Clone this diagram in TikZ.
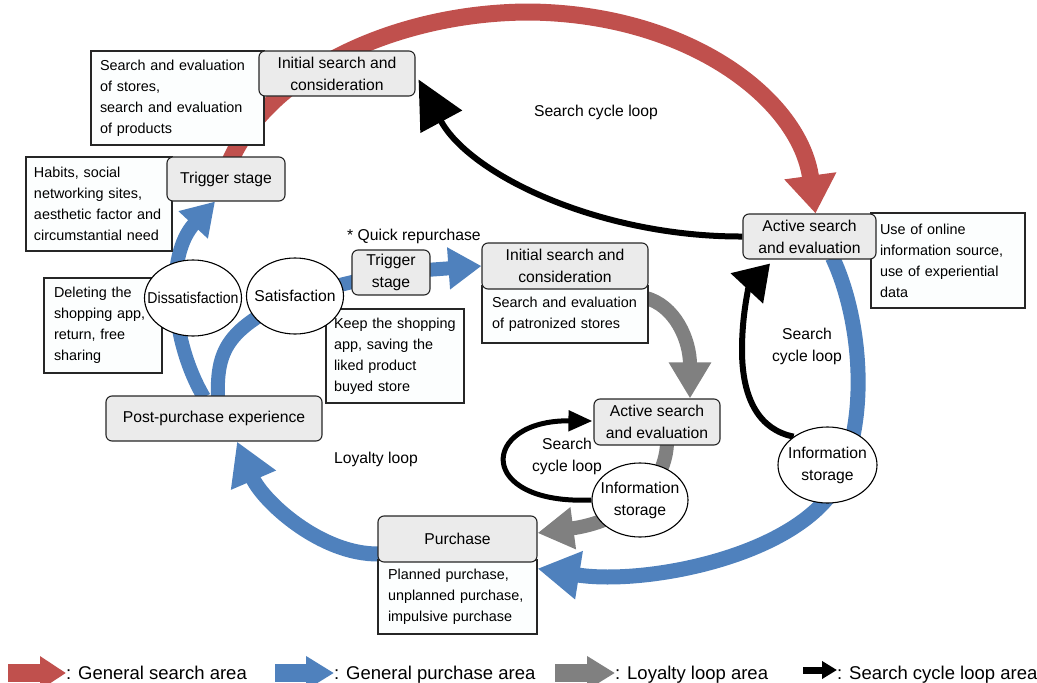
\documentclass[tikz,border=0pt]{standalone}
\usepackage{fontspec}
\usepackage{graphicx}
\setmainfont{Liberation Sans}
\usetikzlibrary{arrows.meta,shapes.geometric,calc}
\definecolor{redA}{HTML}{C0504D}
\definecolor{blueA}{HTML}{4F81BD}
\definecolor{grayA}{HTML}{808080}
\definecolor{boxfill}{HTML}{EBEBEB}
\definecolor{notefill}{HTML}{FCFEFE}
\newcommand{\dgfont}{\fontsize{15.7}{22}\selectfont}
\newcommand{\ntfont}{\fontsize{14.4}{21}\selectfont}
\newcommand{\lgfont}{\fontsize{18.5}{22}\selectfont}
\pgfdeclarelayer{bg}
\pgfsetlayers{bg,main}
\tikzset{
  stage/.style={draw=black!85, line width=1.1pt, fill=boxfill, rounded corners=6pt,
    align=center, inner sep=0pt, font=\dgfont},
  note/.style n args={2}{draw=black!85, line width=1.1pt, fill=notefill, align=left,
    inner xsep=#2, inner ysep=0pt, text width=#1-2*#2, minimum width=#1, font=\ntfont},
  oval/.style={ellipse, draw=black, line width=1.1pt, fill=white, inner sep=0pt, font=\dgfont},
  lbl/.style={font=\dgfont, align=center, inner sep=0pt},
  leg/.style={font=\lgfont, inner sep=0pt},
  flow/.style n args={4}{draw=#1, line width=#2, line join=round,
    -{Triangle[width=#3,length=#4]}},
}
\begin{document}
\begin{tikzpicture}[x=1pt,y=-1pt]
\useasboundingbox (0,0) rectangle (1037,683);
% notes and stages
\node[note={173pt}{9pt}, minimum height=94pt] (n1) at (177.5,98)
  {Search and evaluation\\of stores,\\search and evaluation\\of products};
\node[stage, minimum width=156pt, minimum height=45pt] (init1) at (337,73.5)
  {Initial search and\\consideration};
\node[note={146pt}{8pt}, minimum height=94pt] (n2) at (99,204)
  {Habits, social\\networking~sites,\\aesthetic~factor~and\\circumstantial~need};
\node[stage, minimum width=118pt, minimum height=44pt] (trig1) at (226,179) {Trigger stage};
\node[note={118pt}{10pt}, minimum height=95pt] (n3) at (103,325.5)
  {Deleting the\\shopping~app,\\return, free\\sharing};
\node[oval, minimum width=97pt, minimum height=76pt] (dis) at (193,298)
  {\makebox[0pt]{\scalebox{0.9}[1]{Dissatisfaction}}};
\node[note={138pt}{8pt}, minimum height=94pt] (n4) at (395,356)
  {Keep~the~shopping\\app,~saving~the\\liked product\\buyed store};
\node[oval, minimum width=97pt, minimum height=76pt] (sat) at (295,296)
  {\makebox[0pt]{Satisfaction}};
\node[lbl] (quick) at (414,236) {* Quick repurchase};
\node[stage, minimum width=78pt, minimum height=45pt] (trig2) at (391,272.5) {Trigger\\stage};
\node[note={166pt}{10pt}, minimum height=57pt] (n5) at (565,314.5)
  {Search~and~evaluation\\of~patronized~stores};
\node[stage, minimum width=166pt, minimum height=46pt] (init2) at (565,266)
  {Initial search and\\consideration};
\node[note={154pt}{9pt}, minimum height=95pt] (n6) at (948,260.5)
  {Use of online\\information~source,\\use~of~experiential\\data};
\node[stage, minimum width=133pt, minimum height=45pt] (act1) at (809.5,236.5)
  {Active search\\and evaluation};
\node[lbl] (scl1) at (596,112) {Search cycle loop};
\node[lbl] (scl2) at (807,346) {Search\\cycle loop};
\node[oval, minimum width=99pt, minimum height=76pt] (info1) at (827.5,465)
  {\makebox[0pt]{\begin{tabular}{@{}c@{}}Information\\storage\end{tabular}}};
\node[stage, minimum width=126pt, minimum height=46pt] (act2) at (657,422)
  {Active search\\and evaluation};
\node[lbl] (scl3) at (567,456) {Search\\cycle loop};
\node[oval, minimum width=96pt, minimum height=74pt] (info2) at (640,500)
  {\makebox[0pt]{\begin{tabular}{@{}c@{}}Information\\storage\end{tabular}}};
\node[stage, minimum width=216pt, minimum height=45pt] (post) at (214,418.5)
  {Post-purchase experience};
\node[lbl] (loyal) at (376,459) {Loyalty loop};
\node[note={159pt}{10pt}, minimum height=74pt] (n7) at (457.5,597)
  {Planned~purchase,\\unplanned~purchase,\\impulsive~purchase};
\node[stage, minimum width=159pt, minimum height=46pt] (purch) at (457.5,539) {Purchase};

% legend
\coordinate (lg1) at (8,673);
\node[leg, anchor=base west] (lt1) at (66,679) {: General search area};
\coordinate (lg2) at (275,673);
\node[leg, anchor=base west] (lt2) at (334,679) {: General purchase area};
\coordinate (lg3) at (555,673);
\node[leg, anchor=base west] (lt3) at (615,679) {: Loyalty loop area};
\coordinate (lg4) at (803,670);
\node[leg, anchor=base west] (lt4) at (837,679) {: Search cycle loop area};
\draw[flow={redA}{18pt}{32pt}{26pt}] (lg1) -- (lg1 -| lt1.west);
\draw[flow={blueA}{18pt}{32pt}{28pt}] (lg2) -- (lg2 -| lt2.west);
\draw[flow={grayA}{18pt}{32pt}{28pt}] (lg3) -- (lg3 -| lt3.west);
\draw[flow={black}{7pt}{17pt}{15pt}] (lg4) -- (lg4 -| lt4.west);

\begin{pgfonlayer}{bg}
% general search area (red)
\draw[flow={redA}{17pt}{50pt}{38pt}] ($(trig1.north)+(4,5)$)
  .. controls (270,70) and (400,12) .. (530,12)
  .. controls (690,14) and (800,100) .. ($(act1.north)+(6,0)$);
% general purchase area (blue)
\draw[flow={blueA}{14pt}{38pt}{32pt}] ($(post.north)+(-10,2)$)
  .. controls (170,340) and (165,255) .. ($(trig1.south)+(-11,0)$);
\draw[flow={blueA}{14pt}{40pt}{33pt}] ($(post.north)+(4,2)$)
  .. controls (216,345) and (232,328) .. (sat.center) -- (trig2.center) -- (init2.west);
\draw[flow={blueA}{15pt}{46pt}{42pt}] ($(act1.south)+(23,-2)$)
  .. controls (862,320) and (872,430) .. (830,495)
  .. controls (780,560) and (640,585) .. ($(purch.south east)+(0,6)$);
\draw[flow={blueA}{15pt}{46pt}{42pt}] ($(purch.west)+(2,15)$)
  .. controls (320,555) and (262,500) .. ($(post.south)+(23,0)$);
% loyalty loop area (gray)
\draw[flow={grayA}{14pt}{40pt}{36pt}] ($(init2.south east)+(-4,8)$)
  .. controls (675,305) and (690,340) .. ($(act2.north)+(33,0)$);
\draw[flow={grayA}{14pt}{40pt}{36pt}] ($(act2.south)+(10,-2)$)
  .. controls (665,490) and (620,522) .. ($(purch.east)+(0,-6)$);
% search cycle loop area (black)
\draw[flow={black}{6pt}{46pt}{48pt}] (act1.west)
  .. controls (600,237) and (470,175) .. ($(init1.east)+(3,6)$);
\draw[flow={black}{6pt}{43pt}{34pt}] (info1.140)
  .. controls (760,430) and (742,400) .. (742,350)
  .. controls (742,310) and (750,285) .. ($(act1.south)+(-39.5,4)$);
\draw[flow={black}{5pt}{20pt}{24pt}] (info2.west)
  .. controls (475,505) and (480,420) .. ($(act2.west)+(-1,-1)$);
\end{pgfonlayer}
\end{tikzpicture}
\end{document}
